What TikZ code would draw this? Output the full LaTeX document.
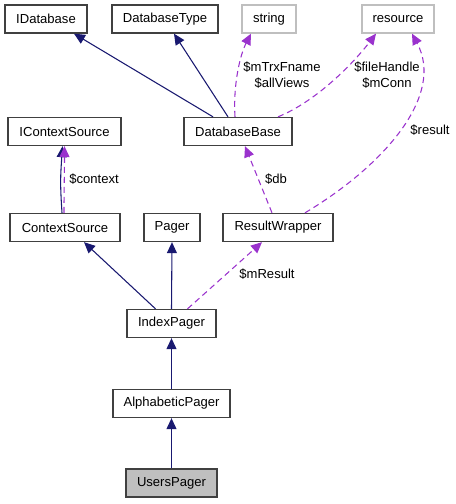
\documentclass[tikz,border=0pt]{standalone}
\usepackage{fontspec}
\setmainfont{Liberation Sans}
\usetikzlibrary{arrows.meta,calc}
\definecolor{edgeblue}{HTML}{191970}
\definecolor{edgepurple}{HTML}{9A32CD}
\definecolor{boxgray}{HTML}{BFBFBF}
\definecolor{bordergray}{HTML}{404040}
\begin{document}
\begin{tikzpicture}[x=0.75pt,y=-0.75pt,
  cls/.style={draw=bordergray,line width=1pt,fill=white,minimum height=21pt,inner sep=0pt,font=\fontsize{9.8}{11}\selectfont},
  ext/.style={cls,draw=boxgray},
  inh/.style={draw=edgeblue,line width=0.8pt,-{Triangle[length=8.25pt,width=7.5pt]},fill=none},
  use/.style={draw=edgepurple,line width=0.8pt,dash pattern=on 4.5pt off 3pt,-{Triangle[length=8.25pt,width=7.5pt,fill=edgepurple]}},
  lbl/.style={font=\fontsize{9.8}{12}\selectfont,align=center,inner sep=0pt}]
\useasboundingbox (0,0) rectangle (456,504);
\node[cls,minimum width=61.5pt] (idb) at (46,19) {IDatabase};
\node[cls,minimum width=79.5pt] (dbt) at (165,19) {DatabaseType};
\node[ext,minimum width=40.5pt] (str) at (269,19) {string};
\node[ext,minimum width=54pt] (res) at (398,19) {resource};
\node[cls,minimum width=84.75pt] (ics) at (64.5,131.5) {IContextSource};
\node[cls,minimum width=81pt] (dbb) at (238,131.5) {DatabaseBase};
\node[cls,minimum width=82.5pt] (cs) at (65,227.5) {ContextSource};
\node[cls,minimum width=42pt] (pag) at (172,227.5) {Pager};
\node[cls,minimum width=82.5pt] (rw) at (278,227.5) {ResultWrapper};
\node[cls,minimum width=66.75pt] (ip) at (171.5,323.5) {IndexPager};
\node[cls,minimum width=87.75pt] (ap) at (171.5,403.5) {AlphabeticPager};
\node[cls,minimum width=68.25pt,fill=boxgray] (up) at (171.5,483) {UsersPager};

% inheritance
\draw[inh] ($(dbb.north)+(-25,0)$) -- ($(idb.south)+(28,0)$);
\draw[inh] ($(dbb.north)+(-10,0)$) -- ($(dbt.south)+(9,0)$);
\draw[inh] ($(cs.north)+(-3,0)$) .. controls ($(cs.north)+(-5,-30)$) and ($(ics.south)+(-4,30)$) .. ($(ics.south)+(-2,0)$);
\draw[use] ($(cs.north)+(-1,0)$) .. controls ($(cs.north)+(-1,-30)$) and ($(ics.south)+(0,30)$) .. ($(ics.south)+(0,0)$);
\draw[inh] ($(ip.north)+(-16,0)$) -- ($(cs.south)+(19,0)$);
\draw[inh] (ip.north) -- (pag.south);
\draw[inh] (ap.north) -- (ip.south);
\draw[inh] (up.north) -- (ap.south);

% usage
\draw[use] ($(dbb.north)+(-3,0)$) .. controls (233,85) and (240,55) .. ($(str.south)+(-18,0)$);
\node[lbl] (l1) at (282,75) {\$mTrxFname\\\$allViews};
\draw[use] ($(dbb.north)+(40,0)$) .. controls (315,102) and (352,65) .. ($(res.south)+(-22,0)$);
\node[lbl] (l2) at (387,75) {\$fileHandle\\\$mConn};
\draw[use] ($(rw.north)+(27,0)$) .. controls (385,165) and (445,95) .. ($(res.south)+(14,0)$);
\node[lbl] (l3) at (430,130) {\$result};
\node[lbl] (l4) at (94,179) {\$context};
\draw[use] ($(rw.north)+(-6,0)$) -- ($(dbb.south)+(7,0)$);
\node[lbl] (l5) at (276,179) {\$db};
\draw[use] ($(ip.north)+(16,0)$) -- ($(rw.south)+(-16,0)$);
\node[lbl] (l6) at (267,274) {\$mResult};
\end{tikzpicture}
\end{document}
